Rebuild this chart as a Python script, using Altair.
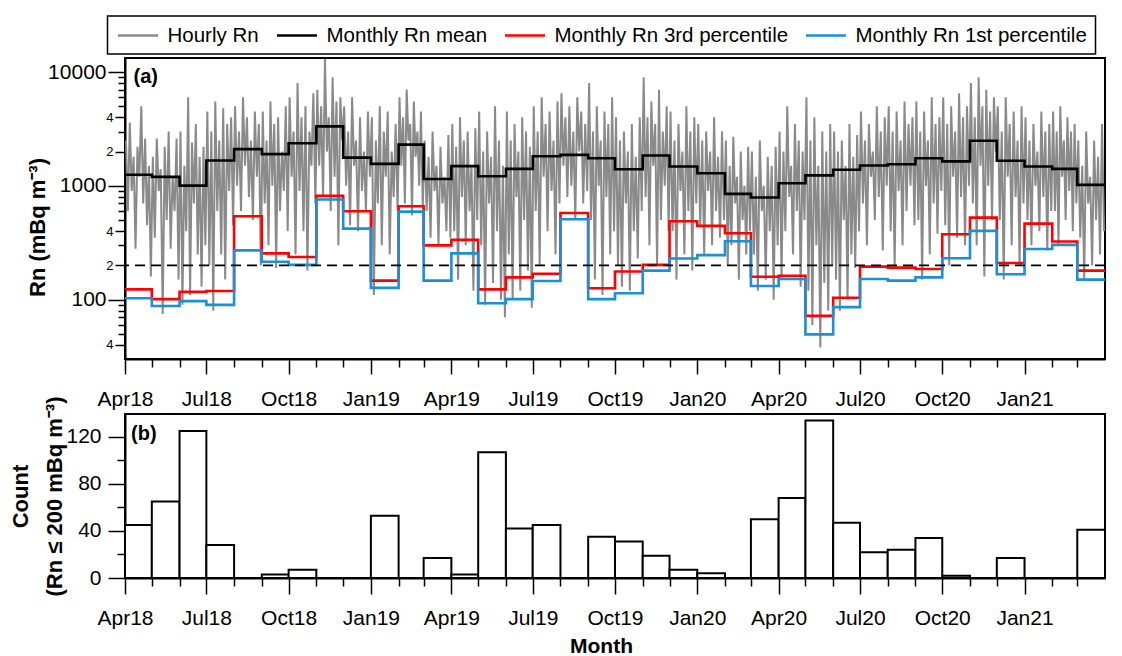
import altair as alt
import pandas as pd

# ---------------- data ----------------
series_names = ["Hourly Rn", "Monthly Rn mean", "Monthly Rn 3rd percentile", "Monthly Rn 1st percentile"]
series_colors = ["#8a8a8a", "#000000", "#ff0000", "#1b8fd7"]

first_month = "2018-04-01"
n_months = 36  # Apr18 .. Mar21

monthly_mean = [1250, 1200, 1005, 1670, 2100, 1900, 2370, 3330, 1770, 1560, 2300, 1150,
                1490, 1215, 1410, 1820, 1870, 1750, 1400, 1845, 1480, 1290, 850, 790,
                1055, 1235, 1385, 1510, 1550, 1750, 1640, 2490, 1660, 1480, 1410, 1020]
monthly_p3 = [123, 101, 117, 119, 541, 255, 237, 817, 598, 147, 662, 300,
              335, 123, 157, 169, 578, 126, 177, 202, 488, 445, 383, 159,
              162, 72, 104, 195, 191, 186, 375, 526, 210, 466, 324, 180]
monthly_p1 = [103, 88, 97, 90, 271, 215, 202, 759, 421, 127, 594, 147,
              255, 93, 101, 146, 508, 101, 114, 180, 230, 246, 326, 132,
              152, 49.5, 86, 152, 147, 157, 231, 402, 167, 279, 303, 150]
count_le_200 = [45, 65, 125, 28, 0, 3, 7, 0, 0, 53, 0, 17,
                3, 107, 42, 45, 0, 35, 31, 19, 7, 4, 0, 50,
                68, 134, 47, 22, 24, 34, 2, 0, 17, 0, 0, 41]
threshold = [200]

# hourly Rn (envelope samples read month by month)
hourly_2018 = [
    [2500, 600, 3600, 900, 1800, 280, 2200, 1200, 5000, 700, 2600, 450, 1500, 160],
    [1800, 350, 2600, 900, 1400, 75, 2200, 500, 3000, 280, 1200, 600, 2600, 150],
    [3000, 90, 1500, 400, 6000, 110, 2400, 700, 3500, 250, 1800, 130, 2200, 300],
    [4500, 200, 3000, 80, 5500, 600, 2500, 250, 4800, 150, 3500, 900, 4000, 450],
    [5000, 1000, 3000, 600, 6000, 1500, 4000, 800, 2500, 500, 4500, 1200, 3500, 200],
    [4500, 700, 2500, 300, 5500, 1000, 3500, 190, 4000, 600, 2000, 900, 5000, 400],
    [6000, 1200, 3000, 250, 8000, 900, 4000, 400, 5000, 180, 3000, 1500, 6500, 700],
    [7000, 1500, 5000, 800, 13000, 2000, 4000, 600, 9000, 1200, 5500, 300, 6000, 2500],
    [5000, 1000, 3000, 450, 6000, 1500, 2500, 400, 4000, 900, 2000, 600, 4500, 1200],
]
hourly_2019 = [
    [4000, 110, 2500, 700, 5000, 300, 3000, 1200, 4500, 250, 2000, 800, 3500, 600],
    [6000, 1500, 4000, 700, 7000, 2500, 3500, 550, 5500, 1800, 3000, 1000, 4500, 650],
    [2500, 600, 1800, 350, 3000, 900, 1500, 300, 2200, 700, 1200, 400, 2800, 350],
    [3500, 400, 2200, 150, 4000, 800, 2500, 300, 3000, 600, 1500, 120, 3200, 500],
    [4500, 300, 2000, 90, 3000, 700, 1800, 140, 5000, 400, 2500, 100, 1500, 70],
    [4500, 250, 2500, 100, 3500, 800, 2000, 120, 4000, 500, 3000, 180, 2200, 85],
    [5000, 600, 3000, 200, 6000, 1200, 3500, 400, 4500, 900, 2500, 250, 5500, 700],
    [6500, 1500, 4000, 800, 5000, 1000, 3000, 500, 6000, 2000, 4500, 700, 3500, 900],
    [8000, 500, 3000, 150, 5000, 1000, 2500, 110, 4500, 800, 3500, 250, 6000, 400],
    [4000, 200, 2500, 130, 3000, 700, 2000, 120, 3500, 400, 1800, 230, 4000, 600],
    [9000, 800, 4000, 300, 5500, 1500, 3500, 200, 7000, 500, 3000, 1000, 5000, 400],
    [4500, 400, 2500, 150, 3500, 900, 2000, 250, 5000, 600, 3000, 180, 4000, 700],
]
hourly_2020 = [
    [3500, 450, 2500, 250, 3000, 900, 2000, 300, 4000, 600, 1800, 350, 3000, 500],
    [2500, 200, 1500, 300, 2700, 700, 1200, 150, 2000, 500, 1000, 250, 2200, 400],
    [2000, 250, 1200, 120, 2500, 600, 1000, 150, 1800, 400, 1500, 100, 2200, 300],
    [3000, 150, 2000, 400, 5000, 800, 1500, 250, 3500, 600, 2500, 130, 2000, 500],
    [6000, 120, 2500, 60, 4000, 300, 1500, 38, 3000, 140, 2000, 80, 3500, 200],
    [3000, 150, 2000, 80, 2500, 500, 1500, 100, 3500, 250, 1800, 190, 2800, 400],
    [4500, 700, 2500, 300, 3500, 1200, 2000, 500, 5000, 800, 3000, 270, 4000, 1000],
    [5000, 400, 3000, 190, 4500, 900, 2500, 300, 5500, 600, 3500, 1000, 4000, 450],
    [5500, 500, 3000, 150, 4500, 1000, 2500, 250, 6000, 700, 3500, 380, 4000, 900],
    [6000, 450, 3500, 200, 5000, 1200, 3000, 350, 6500, 800, 4000, 300, 5000, 1000],
    [8000, 700, 4000, 300, 9000, 1500, 5000, 160, 7000, 1000, 4500, 500, 6000, 2000],
    [5000, 500, 3000, 150, 6000, 1200, 3500, 300, 4500, 800, 2500, 200, 5000, 700],
]
hourly_2021 = [
    [4000, 500, 2500, 300, 3500, 1000, 2000, 400, 4500, 800, 3000, 270, 3500, 600],
    [4500, 600, 3000, 300, 5000, 1200, 2500, 500, 4000, 900, 3000, 400, 3500, 700],
    [2500, 350, 1500, 150, 3000, 700, 1200, 200, 2500, 500, 1800, 250, 3500, 400],
]

y_tick_values = [40, 50, 60, 70, 80, 90, 100, 200, 300, 400, 500, 600, 700, 800, 900,
                 1000, 2000, 3000, 4000, 5000, 6000, 7000, 8000, 9000, 10000]
count_tick_values = [0, 20, 40, 60, 80, 100, 120]

# ---------------- build tables ----------------
starts = pd.date_range(first_month, periods=n_months + 1, freq="MS", tz="UTC")


def iso(t):
    return t.strftime("%Y-%m-%dT%H:%M:%SZ")


def ms(t):
    return int(t.timestamp() * 1000)


hourly_rows = []
for m, vals in enumerate(hourly_2018 + hourly_2019 + hourly_2020 + hourly_2021):
    t0, t1 = starts[m], starts[m + 1]
    for i, v in enumerate(vals):
        t = t0 + (t1 - t0) * ((i + 0.5) / len(vals))
        hourly_rows.append({"time": iso(t), "rn": v, "series": series_names[0]})
hourly_df = pd.DataFrame(hourly_rows)


def step_df(name, vals):
    rows = []
    for m in range(n_months + 1):
        rows.append({"time": iso(starts[m]), "rn": vals[min(m, n_months - 1)], "series": name})
    return pd.DataFrame(rows)


mean_df = step_df(series_names[1], monthly_mean)
p3_df = step_df(series_names[2], monthly_p3)
p1_df = step_df(series_names[3], monthly_p1)

bar_df = pd.DataFrame({
    "start": [iso(s) for s in starts[:-1]],
    "end": [iso(s) for s in starts[1:]],
    "count": count_le_200,
})
thr_df = pd.DataFrame({"rn": threshold})

# ---------------- scales / axes ----------------
FONT = "Liberation Sans"
tick_ms = [ms(s) for s in starts[:-1]]
x_scale = alt.Scale(type="utc", domain=[ms(starts[0]), ms(starts[-1])], nice=False)
quarter = "utcmonth(datum.value) % 3 == 0"
x_label_expr = f"({quarter}) ? utcFormat(datum.value, '%b%y') : ''"


def x_axis(major, minor, pad, title=None, **kw):
    return alt.Axis(values=tick_ms, labelExpr=x_label_expr, title=title,
                    tickSize={"condition": {"test": quarter, "value": major}, "value": minor},
                    labelPadding=pad, labelFlush=False, labelOverlap=False, labelBound=False,
                    grid=False, **kw)


dec = "datum.value == 10000 || datum.value == 1000 || datum.value == 100"
mid = "datum.value == 4000 || datum.value == 2000 || datum.value == 400 || datum.value == 200 || datum.value == 40"
y_label_expr = (f"({dec}) ? format(datum.value, 'd') : "
                "((datum.value == 4000 || datum.value == 400 || datum.value == 40) ? '4' : "
                "((datum.value == 2000 || datum.value == 200) ? '2' : ''))")

y_axis_top = alt.Axis(
    values=y_tick_values, labelExpr=y_label_expr, title="Rn (mBq m⁻³)",
    titleY=169, titlePadding=-2, labelPadding=2, labelOverlap=False, grid=False,
    tickSize={"condition": [{"test": dec, "value": 17}, {"test": mid, "value": 10}], "value": 7},
    labelFontSize={"condition": {"test": dec, "value": 21}, "value": 13},
)
y_scale_top = alt.Scale(type="log", domain=[30.1, 13280], nice=False)
color_scale = alt.Scale(domain=series_names, range=series_colors)
color_enc = alt.Color(
    "series:N",
    scale=color_scale,
    legend=alt.Legend(orient="none", legendX=-17.5, legendY=-42, direction="horizontal",
                      title=None, symbolType="M-2,0H2", symbolSize=400, symbolStrokeWidth=2.5,
                      symbolOffset=11, labelOffset=18, labelLimit=500,
                      labelFont=FONT, labelFontSize=20.5, labelColor="black",
                      columnPadding=12, padding=8, strokeColor="black", fillColor="white"),
)

X_top = alt.X("time:T", scale=x_scale, axis=x_axis(15, 8, 14))
Y_top = alt.Y("rn:Q", scale=y_scale_top, axis=y_axis_top)

hourly = alt.Chart(hourly_df).mark_line(strokeWidth=2.0, clip=True).encode(x=X_top, y=Y_top, color=color_enc)
mean_line = alt.Chart(mean_df).mark_line(interpolate="step-after", strokeWidth=2.6).encode(x=X_top, y=Y_top, color=color_enc)
p3_line = alt.Chart(p3_df).mark_line(interpolate="step-after", strokeWidth=2.6).encode(x=X_top, y=Y_top, color=color_enc)
p1_line = alt.Chart(p1_df).mark_line(interpolate="step-after", strokeWidth=2.6).encode(x=X_top, y=Y_top, color=color_enc)
thr_line = alt.Chart(thr_df).mark_rule(strokeDash=[10, 6], strokeWidth=1.8, color="black").encode(y=Y_top)
label_a = alt.Chart(pd.DataFrame({"t": ["(a)"]})).mark_text(
    align="left", baseline="alphabetic", font=FONT, fontSize=20, fontWeight="bold", color="black"
).encode(x=alt.value(8.5), y=alt.value(25), text="t:N")

top = alt.layer(hourly, mean_line, p3_line, p1_line, thr_line, label_a).properties(width=980, height=301)

count_axis = alt.Axis(
    values=count_tick_values, title=["Count", "(Rn ≤ 200 mBq m⁻³)"], titleLineHeight=34,
    titlePadding=-1, labelPadding=7, grid=False,
    labelExpr="datum.value % 40 == 0 ? datum.label : ''",
    tickSize={"condition": {"test": "datum.value % 40 == 0", "value": 17}, "value": 8},
)
bars = alt.Chart(bar_df).mark_rect(fill="white", stroke="black", strokeWidth=2).encode(
    x=alt.X("start:T", scale=x_scale, axis=x_axis(16, 8, 13, title="Month", titleX=476, titlePadding=7, titleFontSize=21)),
    x2="end:T",
    y=alt.Y("count:Q", scale=alt.Scale(domain=[0, 139.5], nice=False), axis=count_axis),
    y2=alt.datum(0),
)
label_b = alt.Chart(pd.DataFrame({"t": ["(b)"]})).mark_text(
    align="left", baseline="alphabetic", font=FONT, fontSize=20, fontWeight="bold", color="black"
).encode(x=alt.value(6), y=alt.value(26), text="t:N")

bottom = alt.layer(bars, label_b).properties(width=980, height=164)

chart = alt.vconcat(top, bottom, spacing=55, bounds="flush").properties(
    padding={"left": 0, "top": 7, "right": 0, "bottom": 0}
).configure_axis(
    labelFont=FONT, labelFontSize=21, labelColor="black",
    titleFont=FONT, titleFontSize=22, titleFontWeight="bold", titleColor="black",
    domainColor="black", domainWidth=2, tickColor="black", tickWidth=1.5,
).configure_view(stroke="black", strokeWidth=2).configure_legend(strokeWidth=1.5)

chart.save("out.html", embed_options={"renderer": "svg", "actions": False})
